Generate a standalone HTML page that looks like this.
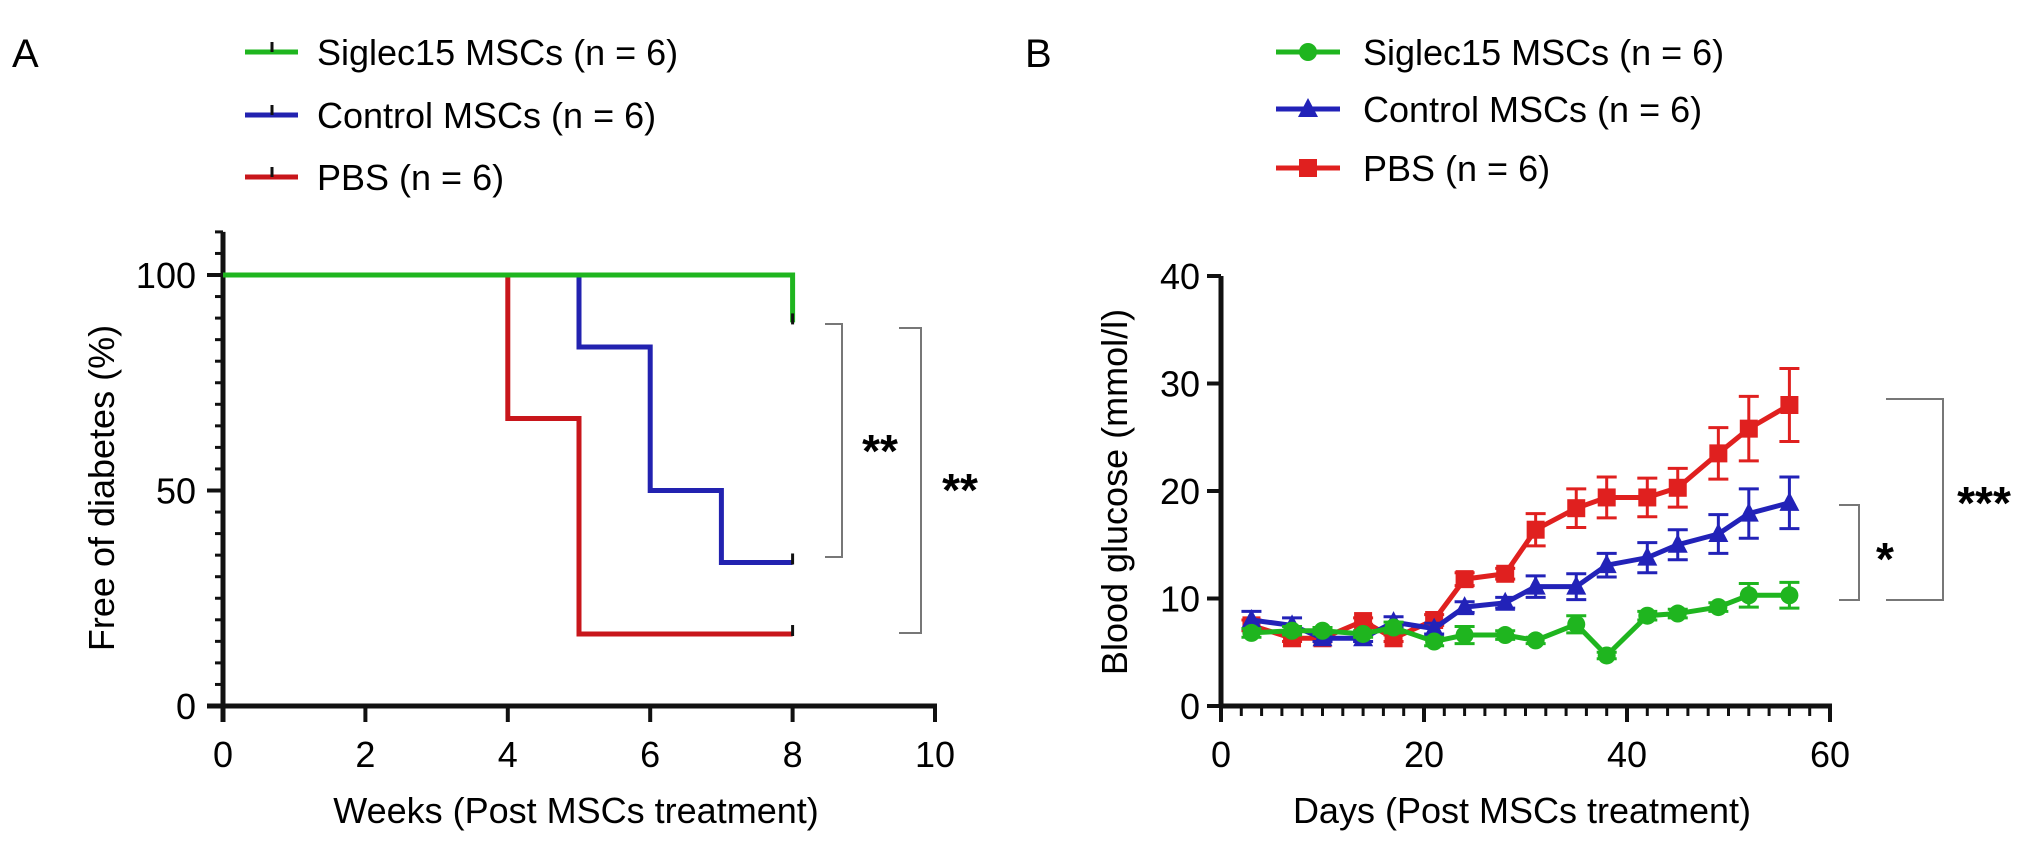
<!DOCTYPE html>
<html><head><meta charset="utf-8"><style>
html,body{margin:0;padding:0;background:#fff}
svg{display:block;font-family:"Liberation Sans",sans-serif}
</style></head><body>
<svg id="s" width="2031" height="847" viewBox="0 0 2031 847">
<g id="A"></g>
<g id="B"></g>
</svg>
<script>
// Panel A data (Kaplan-Meier steps)
const kmTicksX = [0,2,4,6,8,10];
const kmTicksY = [0,50,100];
const greenSteps = [[0,100],[8,100],[8,89]];
const blueSteps = [[0,100],[5,100],[5,83.3],[6,83.3],[6,50],[7,50],[7,33.3],[8,33.3]];
const redSteps = [[0,100],[4,100],[4,66.7],[5,66.7],[5,16.7],[8,16.7]];
// Panel B data
const days = [3,7,10,14,17,21,24,28,31,35,38,42,45,49,52,56];
const greenVals = [6.8,7.0,7.0,6.7,7.3,6.0,6.6,6.6,6.1,7.6,4.7,8.4,8.6,9.2,10.3,10.3];
const greenErr = [0.4,0.4,0.3,0.3,0.5,0.4,0.8,0.4,0.3,0.8,0.3,0.4,0.4,0.4,1.1,1.2];
const blueVals = [8.0,7.5,6.3,6.3,7.8,7.2,9.2,9.6,11.1,11.1,13.1,13.8,15.0,16.0,17.9,18.9];
const blueErr = [0.8,0.7,0.3,0.3,0.5,0.5,0.5,0.5,1.0,1.2,1.1,1.4,1.4,1.8,2.3,2.4];
const redVals = [7.5,6.3,6.3,7.9,6.3,8.0,11.8,12.3,16.4,18.4,19.4,19.4,20.3,23.5,25.8,28.0];
const redErr = [0.5,0.3,0.3,0.3,0.3,0.5,0.6,0.5,1.5,1.8,1.9,1.8,1.8,2.4,3.0,3.4];
const bTicksX = [0,20,40,60];
const bTicksY = [0,10,20,30,40];

const NS='http://www.w3.org/2000/svg';
const FS=36;
function mk(p,t,a,txt){const e=document.createElementNS(NS,t);for(const k in a)e.setAttribute(k,a[k]);if(txt!==undefined)e.textContent=txt;p.appendChild(e);return e;}
const A=document.getElementById('A'), B=document.getElementById('B');

// ---- Panel A ----
const ax=v=>223+v*71.2, ay=v=>706-v*4.31;
let e;
e=mk(A,'text',{x:12,y:67,'font-size':40},'A');

const legA=[['Siglec15 MSCs (n = 6)','#1fb51f',52],['Control MSCs (n = 6)','#2222b0',115],['PBS (n = 6)','#c8161b',177]];
legA.forEach((l,i)=>{const g=mk(A,'g',{});

mk(g,'line',{x1:245,x2:298,y1:l[2],y2:l[2],stroke:l[1],'stroke-width':5});
mk(g,'line',{x1:272,x2:272,y1:l[2]-10,y2:l[2],stroke:'#111','stroke-width':3});
mk(g,'text',{x:317,y:l[2]+13,'font-size':FS},l[0]);});
// axes
e=mk(A,'g',{});
mk(e,'line',{x1:ax(0),x2:ax(0),y1:ay(110),y2:ay(0)+16,stroke:'#111','stroke-width':5});
for(let v=0;v<=110;v+=5){const maj=v%50===0;mk(e,'line',{x1:ax(0)-(maj?16:8),x2:ax(0),y1:ay(v),y2:ay(v),stroke:'#111','stroke-width':maj?4:3});}
kmTicksY.forEach(v=>mk(e,'text',{x:196,y:ay(v)+13,'font-size':FS,'text-anchor':'end'},String(v)));
e=mk(A,'g',{});
mk(e,'line',{x1:ax(0)-16,x2:ax(10)+2,y1:ay(0),y2:ay(0),stroke:'#111','stroke-width':5});
kmTicksX.forEach(v=>{mk(e,'line',{x1:ax(v),x2:ax(v),y1:ay(0),y2:ay(0)+16,stroke:'#111','stroke-width':4});
mk(e,'text',{x:ax(v),y:767,'font-size':FS,'text-anchor':'middle'},String(v));});
e=mk(A,'text',{x:576,y:823,'font-size':FS,'text-anchor':'middle'},'Weeks (Post MSCs treatment)');

e=mk(A,'text',{x:0,y:0,'font-size':FS,'text-anchor':'middle',transform:'translate(114,488) rotate(-90)'},'Free of diabetes (%)');

[[redSteps,'#c8161b','red'],[blueSteps,'#2222b0','blue'],[greenSteps,'#1fb51f','green']].forEach(s=>{
e=mk(A,'path',{d:s[0].map((p,i)=>(i?'L':'M')+ax(p[0])+' '+ay(p[1])).join(''),fill:'none',stroke:s[1],'stroke-width':5});

const last=s[0][s[0].length-1];
mk(A,'line',{x1:ax(last[0]),x2:ax(last[0]),y1:ay(last[1])-9,y2:ay(last[1])+2,stroke:'#111','stroke-width':3});});
function bracket(p,x,y1,y2,arm,txt,tx,ty,name){const g=mk(p,'g',{});

mk(g,'path',{d:`M${x-arm} ${y1}H${x}V${y2}H${x-arm}`,fill:'none',stroke:'#777','stroke-width':2});
mk(g,'text',{x:tx,y:ty,'font-size':46,'font-weight':'bold','text-anchor':'middle'},txt);}
bracket(A,842,324,557,17,'**',880,467,'significance-bracket-1');
bracket(A,921,328,633,22,'**',960,506,'significance-bracket-2');

// ---- Panel B ----
const bx=v=>1221+v*10.15, by=v=>706-v*10.75;
e=mk(B,'text',{x:1025,y:67,'font-size':40},'B');

function marker(p,type,x,y,c){
 if(type==='c') return mk(p,'circle',{cx:x,cy:y,r:9,fill:c});
 if(type==='s') return mk(p,'rect',{x:x-9,y:y-9,width:18,height:18,fill:c});
 return mk(p,'path',{d:`M${x} ${y-11}L${x+10} ${y+8}L${x-10} ${y+8}Z`,fill:c});}
const legB=[['Siglec15 MSCs (n = 6)','#1fb51f','c',52],['Control MSCs (n = 6)','#2222b8','t',109],['PBS (n = 6)','#e0201f','s',168]];
legB.forEach(l=>{const g=mk(B,'g',{});

mk(g,'line',{x1:1276,x2:1340,y1:l[3],y2:l[3],stroke:l[1],'stroke-width':5});
marker(g,l[2],1308,l[3],l[1]);
mk(g,'text',{x:1363,y:l[3]+13,'font-size':FS},l[0]);});
e=mk(B,'g',{});
mk(e,'line',{x1:bx(0),x2:bx(0),y1:by(40),y2:by(0),stroke:'#111','stroke-width':5});
bTicksY.forEach(v=>{mk(e,'line',{x1:bx(0)-14,x2:bx(0),y1:by(v),y2:by(v),stroke:'#111','stroke-width':4});
mk(e,'text',{x:1200,y:by(v)+13,'font-size':FS,'text-anchor':'end'},String(v));});
e=mk(B,'g',{});
mk(e,'line',{x1:bx(0),x2:bx(60)+2,y1:by(0),y2:by(0),stroke:'#111','stroke-width':5});
for(let v=0;v<=60;v+=2){const maj=v%20===0;mk(e,'line',{x1:bx(v),x2:bx(v),y1:by(0),y2:by(0)+(maj?16:10),stroke:'#111','stroke-width':maj?4:3});}
bTicksX.forEach(v=>mk(e,'text',{x:bx(v),y:767,'font-size':FS,'text-anchor':'middle'},String(v)));
e=mk(B,'text',{x:1522,y:823,'font-size':FS,'text-anchor':'middle'},'Days (Post MSCs treatment)');

e=mk(B,'text',{x:0,y:0,'font-size':FS,'text-anchor':'middle',transform:'translate(1127,492) rotate(-90)'},'Blood glucose (mmol/l)');

[[redVals,redErr,'#e0201f','s','pbs'],[blueVals,blueErr,'#2222b8','t','control'],[greenVals,greenErr,'#1fb51f','c','siglec15']].forEach(s=>{
 const g=mk(B,'g',{});
 
 days.forEach((d,i)=>{const x=bx(d),y1=by(s[0][i]+s[1][i]),y2=by(s[0][i]-s[1][i]);
  mk(g,'path',{d:`M${x} ${y1}V${y2}M${x-10} ${y1}H${x+10}M${x-10} ${y2}H${x+10}`,stroke:s[2],'stroke-width':3,fill:'none'});});
 mk(g,'path',{d:days.map((d,i)=>(i?'L':'M')+bx(d)+' '+by(s[0][i])).join(''),fill:'none',stroke:s[2],'stroke-width':5});
 days.forEach((d,i)=>{const m=marker(g,s[3],bx(d),by(s[0][i]),s[2]);
  });
});
bracket(B,1859,505,600,20,'*',1885,575,'significance-bracket-3');
bracket(B,1943,399,600,57,'***',1984,519,'significance-bracket-4');
</script>
</body></html>
